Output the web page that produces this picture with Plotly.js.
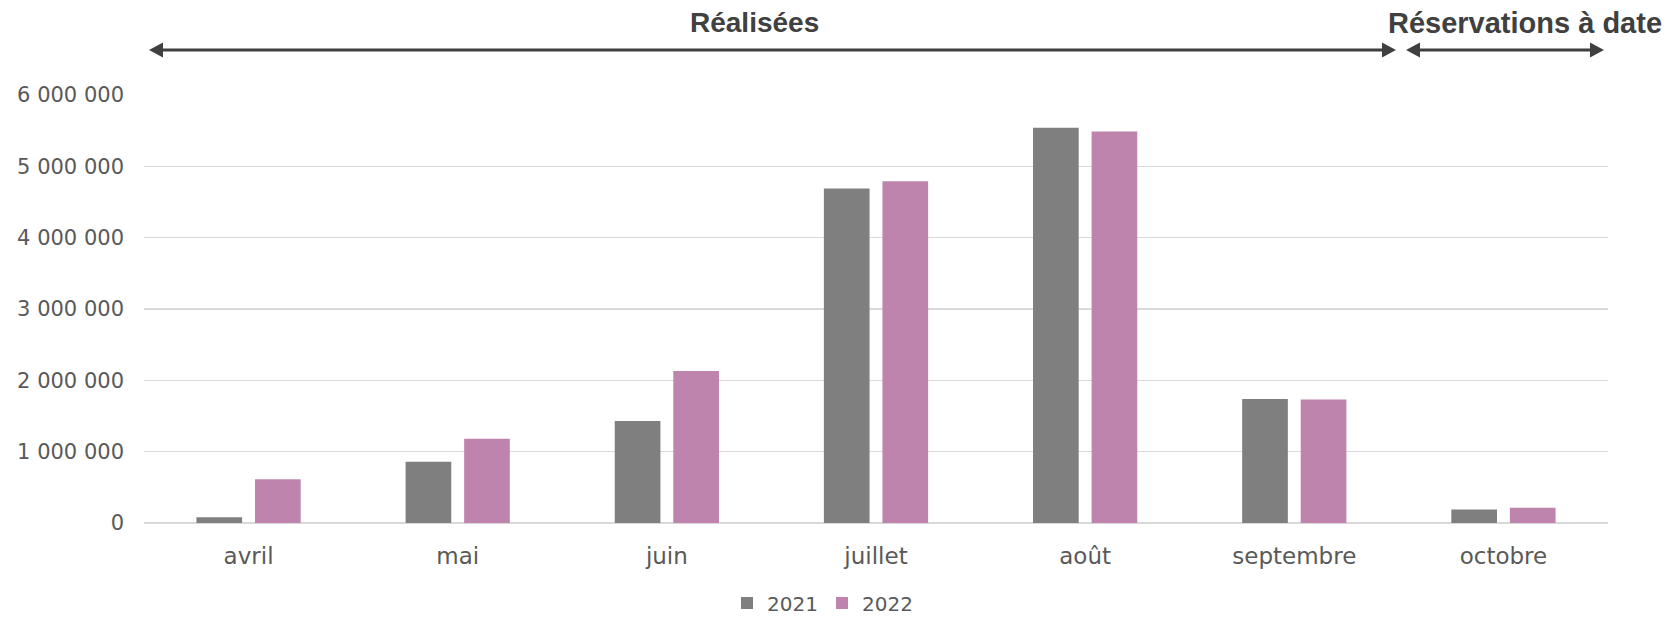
<!DOCTYPE html>
<html>
<head>
<meta charset="utf-8">
<script src="https://cdn.plot.ly/plotly-3.0.1.min.js"></script>
<style>html,body{margin:0;padding:0;background:#fff;}#chart{width:1668px;height:617px;}</style>
</head>
<body>
<div id="chart"></div>
<script>
const months = ["avril", "mai", "juin", "juillet", "août", "septembre", "octobre"];
const values2021 = [80000, 860000, 1430000, 4690000, 5540000, 1740000, 190000];
const values2022 = [615000, 1180000, 2130000, 4790000, 5490000, 1730000, 215000];
const seriesNames = ["2021", "2022"];
const sectionLabels = ["Réalisées", "Réservations à date"];

const W = 1668, H = 617;
const M = {l: 144, r: 60, t: 95, b: 94};
const pw = W - M.l - M.r, ph = H - M.t - M.b;
const px = x => (x - M.l) / pw;
const py = y => (H - M.b - y) / ph;

const textCol = "#595959";
const arrowCol = "#404040";
const font = "DejaVu Sans, sans-serif";

const traces = [
  {type: "bar", name: seriesNames[0], x: months, y: values2021, marker: {color: "#7f7f7f"}, hoverinfo: "x+y"},
  {type: "bar", name: seriesNames[1], x: months, y: values2022, marker: {color: "#bf84ae"}, hoverinfo: "x+y"}
];

const arrowY = py(50);
function arrow(x0, x1) {
  const L = 14, h = 7.5;
  return [
    {type: "line", xref: "paper", yref: "paper", x0: px(x0 + L - 2), x1: px(x1 - L + 2), y0: arrowY, y1: arrowY,
     line: {color: arrowCol, width: 3}},
    {type: "path", xref: "paper", yref: "paper", xsizemode: "pixel", ysizemode: "pixel",
     xanchor: px(x0), yanchor: arrowY, path: `M0,0 L${L},${h} L${L},${-h} Z`,
     fillcolor: arrowCol, line: {width: 0}},
    {type: "path", xref: "paper", yref: "paper", xsizemode: "pixel", ysizemode: "pixel",
     xanchor: px(x1), yanchor: arrowY, path: `M0,0 L${-L},${h} L${-L},${-h} Z`,
     fillcolor: arrowCol, line: {width: 0}}
  ];
}

const layout = {
  width: W, height: H,
  margin: M,
  paper_bgcolor: "#ffffff", plot_bgcolor: "#ffffff",
  separators: ", ",
  font: {family: font, color: textCol, size: 20},
  barmode: "group",
  bargap: 0.44,
  bargroupgap: 0.22,
  showlegend: true,
  legend: {orientation: "h", xref: "container", yref: "container",
           x: 727 / W, xanchor: "left", y: (H - 603) / H, yanchor: "middle",
           font: {family: font, size: 20, color: textCol}, traceorder: "normal",
           itemwidth: 30, entrywidth: 50, bgcolor: "rgba(0,0,0,0)"},
  xaxis: {
    type: "category", showgrid: false, zeroline: false, showline: false, automargin: false,
    ticks: "", tickfont: {family: font, size: 23, color: textCol}, ticklabelstandoff: 17,
    fixedrange: true
  },
  yaxis: {
    range: [0, 6000000], dtick: 1000000, tick0: 0, tickformat: ",d", automargin: false,
    showgrid: true, gridcolor: "#d9d9d9", gridwidth: 1.3,
    zeroline: true, zerolinecolor: "#d9d9d9", zerolinewidth: 1.5,
    showline: false, ticks: "", tickfont: {family: font, size: 21, color: textCol},
    ticklabelstandoff: 19, fixedrange: true
  },
  annotations: [
    {text: sectionLabels[0], xref: "paper", yref: "paper", x: px(754), y: py(23), xanchor: "center", yanchor: "middle",
     showarrow: false, font: {family: "Liberation Sans, Arial, sans-serif", size: 28, color: arrowCol, weight: "bold"}},
    {text: sectionLabels[1], xref: "paper", yref: "paper", x: px(1525), y: py(23), xanchor: "center", yanchor: "middle",
     showarrow: false, font: {family: "Liberation Sans, Arial, sans-serif", size: 29, color: arrowCol, weight: "bold"}}
  ],
  shapes: [].concat(arrow(149, 1396), arrow(1406, 1604))
};

Plotly.newPlot("chart", traces, layout, {displayModeBar: false, staticPlot: true});
</script>
</body>
</html>
